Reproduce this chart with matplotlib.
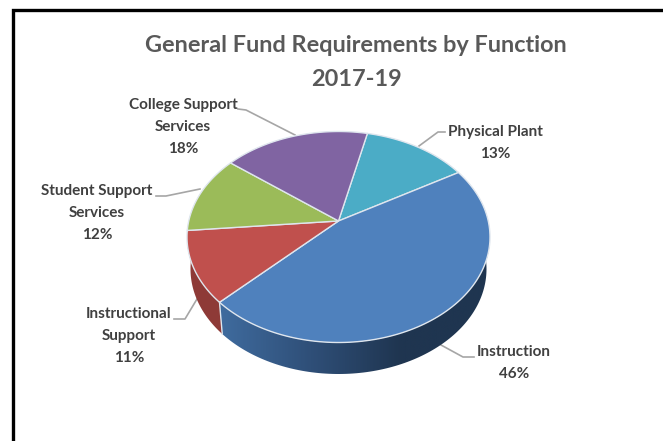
#!/usr/bin/env python3
"""General Fund requirements by function, 2017-19: tilted 3D pie."""
import numpy as np
import matplotlib
matplotlib.use("Agg")
import matplotlib.pyplot as plt
from matplotlib.colors import LinearSegmentedColormap
from matplotlib.patches import Polygon

functions = ["Physical Plant", "Instruction", "Instructional Support",
             "Student Support Services", "College Support Services"]
shares = [13, 46, 11, 12, 18]
face_colors = ["#4bacc6", "#4f81bd", "#c0504d", "#9bbb59", "#8064a2"]

title_lines = ["General Fund Requirements by Function", "2017-19"]
label_lines = [["Physical Plant", "13%"], ["Instruction", "46%"],
               ["Instructional", "Support", "11%"],
               ["Student Support", "Services", "12%"],
               ["College Support", "Services", "18%"]]
label_xy = [(495, 132), (514, 352), (129, 314), (97, 191), (183, 105)]
leaders = [[(445, 132), (438, 132), (419, 146)],
           [(474, 357), (463, 357), (441, 345)],
           [(174, 319), (185, 319), (197, 299)],
           [(156, 196), (166, 196), (200, 189)],
           [(238, 109), (246, 110), (295, 135)]]

START_ANGLE = 77.2
TOP_CENTER = (338.5, 237.0)
TOP_RADII = (151.5, 105.5)
BOTTOM_CENTER = (338.5, 269.0)
BOTTOM_RADII = (148.0, 105.0)
TILT = 0.152


def project(theta_deg, center, radii):
    # perspective map of the unit circle: the pie centre lands above the ellipse centre
    t = np.radians(theta_deg)
    u, v = np.cos(t), np.sin(t)
    d = 1 + TILT * v
    return (center[0] + radii[0] * u * np.sqrt(1 - TILT ** 2) / d,
            center[1] - radii[1] * (v + TILT) / d)


def wall(a0, a1):
    th = np.linspace(a0, a1, 120)
    xt, yt = project(th, TOP_CENTER, TOP_RADII)
    xb, yb = project(th, BOTTOM_CENTER, BOTTOM_RADII)
    return np.c_[np.r_[xt, xb[::-1]], np.r_[yt, yb[::-1]]]


plt.rcParams["font.family"] = ["Lato", "DejaVu Sans"]
fig = plt.figure(figsize=(6.63, 4.41), dpi=100)
ax = fig.add_axes([0, 0, 1, 1])

# chart frame runs off the right and bottom edges
ax.plot([663, 12.5, 12.5], [9.5, 9.5, 441], color="black", lw=2.4, solid_joinstyle="miter")

edges = START_ANGLE - np.cumsum(np.r_[0, shares]) * 3.6

# side walls; only the front half of the rim is visible
ax.add_patch(Polygon(wall(edges[3], edges[2]), fc="#8e3a37", ec="none", zorder=2))

blue_wall = Polygon(wall(edges[2], 0), fc="none", ec="none", zorder=2)
ax.add_patch(blue_wall)
shade = LinearSegmentedColormap.from_list("wall", ["#3f6b9e", "#2f4f78", "#1f3550", "#1f3550"])
im = ax.imshow(np.linspace(0, 1, 300)[None, :], cmap=shade, aspect="auto",
               extent=[220, 492, 380, 240], zorder=2)
im.set_clip_path(blue_wall)
ax.set_xlim(0, 663)
ax.set_ylim(441, 0)
ax.axis("off")

# light seam where the red and blue walls meet
seam_x, seam_y = zip(project(edges[2], TOP_CENTER, TOP_RADII),
                     project(edges[2], BOTTOM_CENTER, BOTTOM_RADII))
ax.plot(seam_x, seam_y, color="#dfe6ee", lw=1.0, zorder=2.5)

# top faces, meeting at the projected pie centre
apex = (TOP_CENTER[0], TOP_CENTER[1] - TOP_RADII[1] * TILT)
for i in range(len(shares)):
    xs, ys = project(np.linspace(edges[i], edges[i + 1], 120), TOP_CENTER, TOP_RADII)
    pts = np.r_[[apex], np.c_[xs, ys]]
    ax.add_patch(Polygon(pts, fc=face_colors[i], ec="#dfe6ee", lw=1.0, zorder=3))

for pts in leaders:
    p = np.array(pts)
    ax.plot(p[:, 0], p[:, 1], color="#a6a6a6", lw=1.2, zorder=1)

for lines, (x, y) in zip(label_lines, label_xy):
    for k, line in enumerate(lines):
        ax.text(x, y + 22 * k, line, color="#404040", fontsize=11, fontweight="bold",
                ha="center", va="center", zorder=5)

ax.text(356, 45, title_lines[0], color="#595959", fontsize=16.9, fontweight="bold",
        ha="center", va="center")
ax.text(356, 80, title_lines[1], color="#595959", fontsize=16.9, fontweight="bold",
        ha="center", va="center")

fig.savefig("out.png", dpi=100)
